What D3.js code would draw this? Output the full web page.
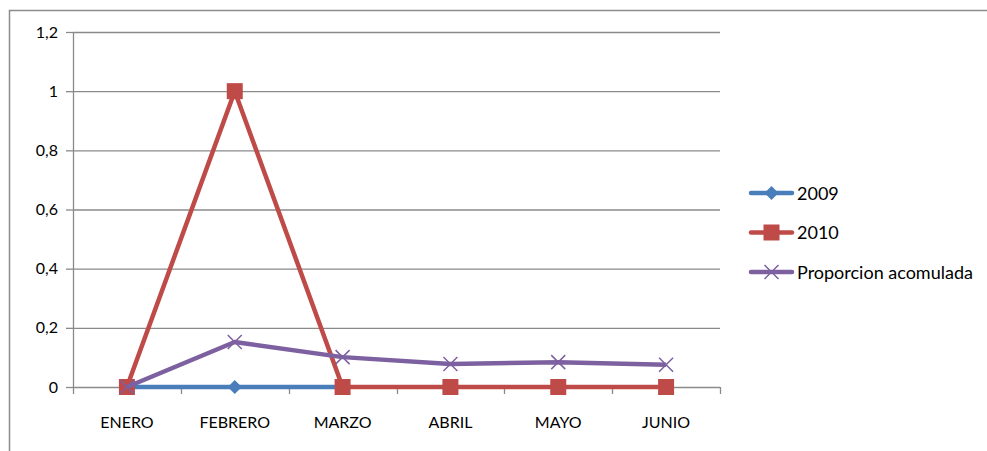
<!DOCTYPE html>
<html>
<head>
<meta charset="utf-8">
<script src="https://d3js.org/d3.v7.min.js"></script>
<style>
  body { margin: 0; background: #fff; }
  text { font-family: Lato, "Open Sans", sans-serif; fill: #000; }
</style>
</head>
<body>
<script>
// data
var months = ["ENERO", "FEBRERO", "MARZO", "ABRIL", "MAYO", "JUNIO"];
var serie2009 = [0, 0, 0, null, null, null];
var serie2010 = [0, 1, 0, 0, 0, 0];
var proporcion = [0, 0.152, 0.101, 0.078, 0.084, 0.075];
var yTicks = [0, 0.2, 0.4, 0.6, 0.8, 1, 1.2];
var seriesNames = ["2009", "2010", "Proporcion acomulada"];

var colors = ["#4A7EBB", "#BE4B48", "#7D60A0"];
var shapes = ["diamond", "square", "cross"];

var W = 987, H = 451;
var margin = {top: 32, left: 73};
var width = 720 - 73, height = 387 - 32;

var svg = d3.select("body").append("svg")
    .attr("width", W)
    .attr("height", H);

// outer chart border
svg.append("rect")
    .attr("x", 9.5).attr("y", 10.5)
    .attr("width", 1000).attr("height", 500)
    .attr("fill", "none")
    .attr("stroke", "#8c8c8c")
    .attr("stroke-width", 1.5);

var g = svg.append("g")
    .attr("transform", "translate(" + margin.left + "," + margin.top + ")");

var x = d3.scaleBand().domain(months).range([0, width]);
var y = d3.scaleLinear().domain([0, 1.2]).range([height, 0]);

var fmt = function(d) { return String(d).replace(".", ","); };

// gridlines
g.selectAll(".grid")
    .data(yTicks.slice(1))
  .enter().append("line")
    .attr("x1", 0).attr("x2", width)
    .attr("y1", function(d) { return y(d) + 0.5; })
    .attr("y2", function(d) { return y(d) + 0.5; })
    .attr("stroke", "#8a8a8a")
    .attr("stroke-width", 1.3);

// Y axis
var yAxis = g.append("g")
    .call(d3.axisLeft(y).tickValues(yTicks).tickFormat(fmt).tickSize(7).tickPadding(8));
yAxis.selectAll("line, path").attr("stroke", "#8a8a8a").attr("stroke-width", 1.3);
yAxis.select(".domain").attr("d", "M0.5,0V" + height);
yAxis.selectAll("text").attr("font-size", 16).attr("fill", "#000");

// X axis with ticks at band edges
var xAxis = g.append("g")
    .attr("transform", "translate(0," + height + ")");
xAxis.append("line")
    .attr("x1", 0).attr("x2", width)
    .attr("y1", 0.5).attr("y2", 0.5)
    .attr("stroke", "#8a8a8a").attr("stroke-width", 1.3);
var edges = months.map(function(m) { return x(m); }).concat([width]);
xAxis.selectAll(".xt")
    .data(edges)
  .enter().append("line")
    .attr("x1", function(d) { return Math.round(d) + 0.5; })
    .attr("x2", function(d) { return Math.round(d) + 0.5; })
    .attr("y1", 0).attr("y2", 7)
    .attr("stroke", "#8a8a8a").attr("stroke-width", 1.3);
xAxis.selectAll(".xl")
    .data(months)
  .enter().append("text")
    .attr("x", function(d) { return x(d) + x.bandwidth() / 2; })
    .attr("y", 41)
    .attr("text-anchor", "middle")
    .attr("font-size", 16)
    .text(function(d) { return d; });

var line = d3.line()
    .defined(function(d) { return d != null; })
    .x(function(d, i) { return x(months[i]) + x.bandwidth() / 2; })
    .y(function(d) { return y(d); });

function drawMarker(sel, shape, color) {
  if (shape === "diamond") {
    sel.append("path").attr("d", "M0,-7L7,0L0,7L-7,0Z").attr("fill", color);
  } else if (shape === "square") {
    sel.append("rect").attr("x", -8).attr("y", -8).attr("width", 16).attr("height", 16).attr("fill", color);
  } else {
    sel.append("path").attr("d", "M-7,-7L7,7M-7,7L7,-7")
        .attr("stroke", color).attr("stroke-width", 1.5).attr("fill", "none");
  }
}

var allSeries = [serie2009, serie2010, proporcion];
allSeries.forEach(function(s, k) {
  g.append("path")
      .datum(s)
      .attr("fill", "none")
      .attr("stroke", colors[k])
      .attr("stroke-width", 4.5)
      .attr("stroke-linejoin", "round")
      .attr("d", line);
  s.forEach(function(v, i) {
    if (v == null) return;
    var m = g.append("g")
        .attr("transform", "translate(" + (x(months[i]) + x.bandwidth() / 2) + "," + y(v) + ")");
    drawMarker(m, shapes[k], colors[k]);
  });
});

// legend
var legend = svg.append("g").attr("transform", "translate(751,193)");
seriesNames.forEach(function(name, k) {
  var row = legend.append("g").attr("transform", "translate(0," + (k * 39.5) + ")");
  row.append("line")
      .attr("x1", 0).attr("x2", 41)
      .attr("stroke", colors[k]).attr("stroke-width", 4.5)
      .attr("stroke-linecap", "round");
  var m = row.append("g").attr("transform", "translate(20.5,0)");
  drawMarker(m, shapes[k], colors[k]);
  row.append("text")
      .attr("x", 46).attr("y", 6.5)
      .attr("font-size", 18)
      .text(name);
});
</script>
</body>
</html>
